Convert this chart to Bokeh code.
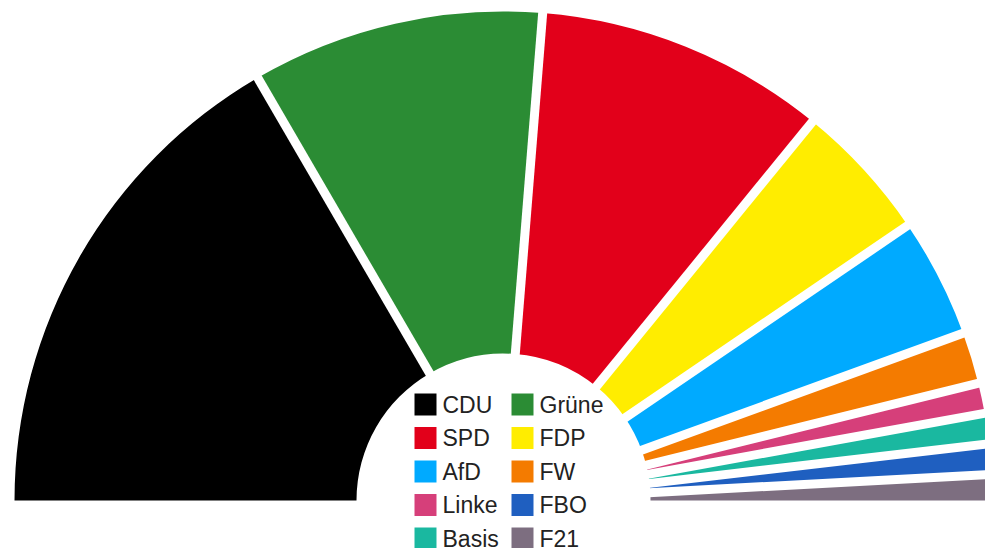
import numpy as np
from bokeh.plotting import figure
from bokeh.models import Range1d, ColumnDataSource
from bokeh.embed import file_html
from bokeh.resources import INLINE
from bokeh.core.properties import value

# ---- data ----
parties = ["CDU", "Grüne", "SPD", "FDP", "AfD", "FW", "Linke", "Basis", "FBO", "F21"]
shares = [33.2, 19.3, 19.2, 9.2, 7.9, 3.4, 2.0, 2.0, 2.0, 1.7]
colors = ["#000000", "#2b8c34", "#e2001a", "#ffed00", "#00aaff",
          "#f47b00", "#d63f7a", "#1ab8a0", "#1f5fc0", "#7d6e80"]
legend_order = ["CDU", "Grüne", "SPD", "FDP", "AfD", "FW", "Linke", "FBO", "Basis", "F21"]

# ---- layout (pixel-like units) ----
W, H = 985, 548
def py(img_y):
    return H - img_y

CX, CY = 503, py(500)
R_OUT, R_IN = 489, 147
GAP = 9

frac = np.array(shares) / sum(shares)
cum = np.concatenate([[0.0], np.cumsum(frac)])
a_hi = np.pi * (1 - cum[:-1])
a_lo = np.pi * (1 - cum[1:])

p = figure(width=W, height=H, output_backend="svg", toolbar_location=None,
           x_range=Range1d(0, W), y_range=Range1d(0, H),
           x_axis_type=None, y_axis_type=None, min_border=0,
           outline_line_color=None)
p.grid.visible = False
p.background_fill_color = "white"
p.border_fill_color = "white"

src = ColumnDataSource(dict(start=a_lo, end=a_hi, color=colors, party=parties))
p.annular_wedge(x=CX, y=CY, inner_radius=R_IN, outer_radius=R_OUT,
                start_angle="start", end_angle="end", fill_color="color",
                line_color=None, source=src)

# white separators between wedges
b = np.pi * (1 - cum[1:-1])
r0, r1 = R_IN - 6, R_OUT + 8
p.segment(x0=CX + r0 * np.cos(b), y0=CY + r0 * np.sin(b),
          x1=CX + r1 * np.cos(b), y1=CY + r1 * np.sin(b),
          line_color="white", line_width=GAP, line_cap="butt")

# legend
col_of = {pt: c for pt, c in zip(parties, colors)}
SQ = 22
LX0, LDX = 425, 97
LY0, LDY = 404, 33.5
idx = np.arange(len(legend_order))
sx = LX0 + (idx % 2) * LDX
sy = np.array([py(LY0 + (i // 2) * LDY) for i in idx])
p.rect(x=sx, y=sy, width=SQ, height=SQ,
       fill_color=[col_of[n] for n in legend_order], line_color=None)
p.text(x=sx + SQ / 2 + 6, y=sy, text=legend_order,
       text_font=value("Liberation Sans"), text_font_size="23px",
       text_color="#222222", text_baseline="middle", text_align="left")

open("out.html", "w").write(file_html(p, INLINE))
